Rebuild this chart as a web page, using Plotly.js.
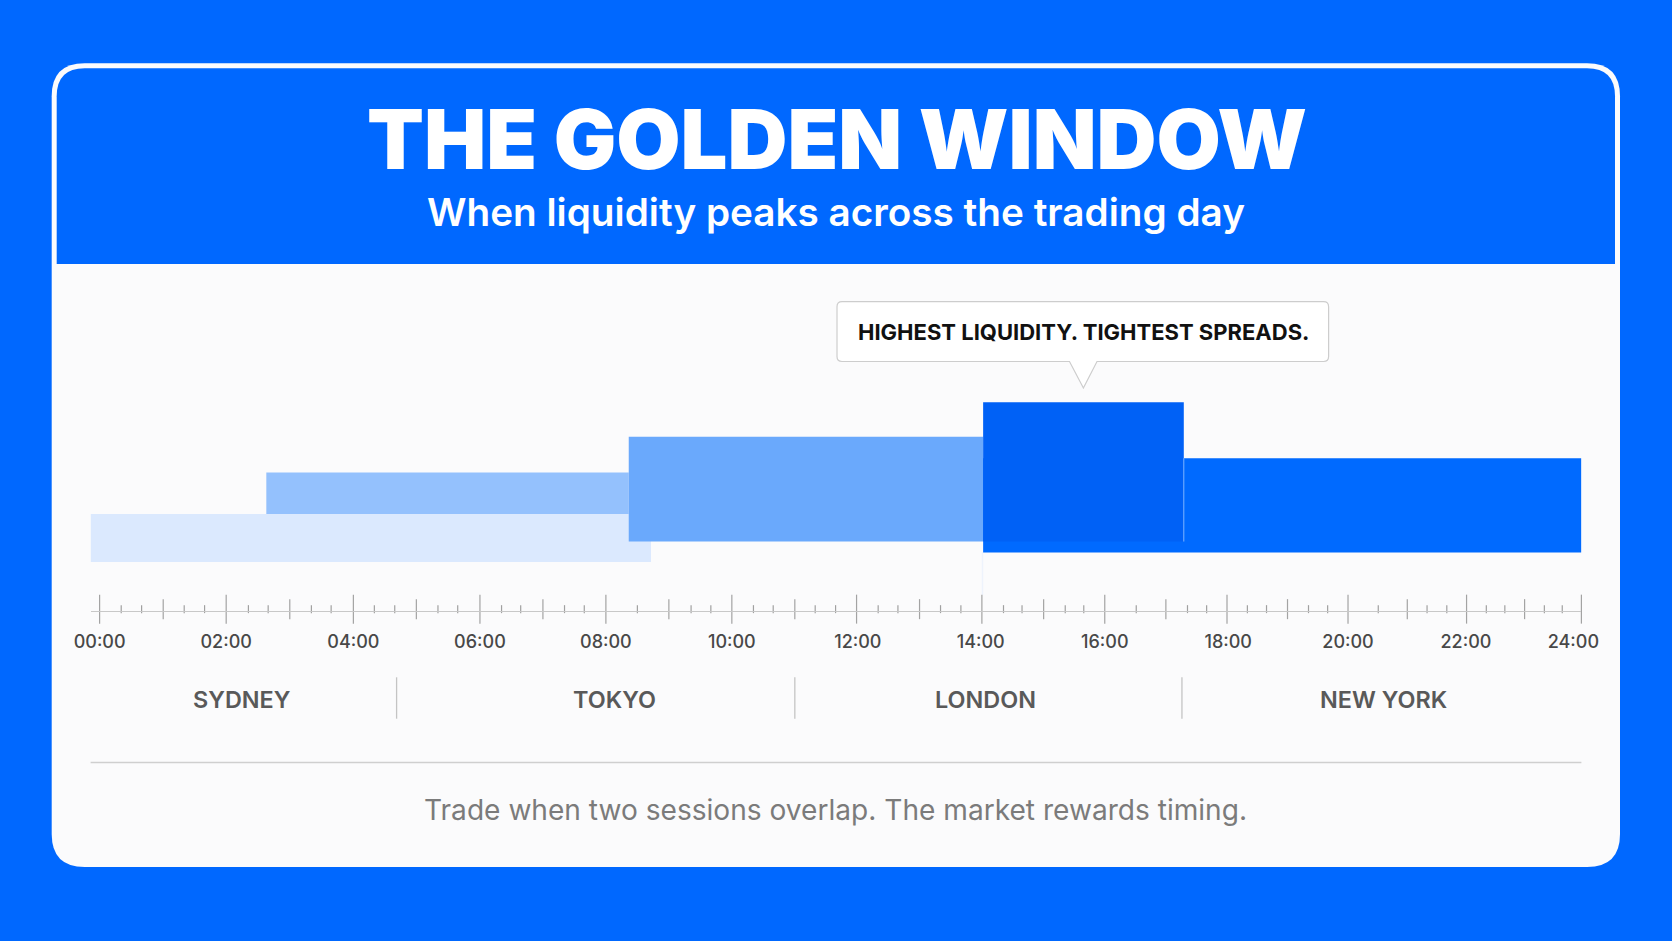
<!DOCTYPE html>
<html>
<head>
<meta charset="utf-8">
<script src="https://cdn.plot.ly/plotly-3.0.1.min.js"></script>
<style>html,body{margin:0;padding:0;background:#0068ff;overflow:hidden}</style>
</head>
<body>
<div id="chart" style="width:1672px;height:941px"></div>
<script>
// bars (hours on the x scale, level on a 0-100 scale)
var barNames = ['Tokyo', 'Sydney', 'London', 'New York', 'London / New York overlap'];
var barStart = [2.70, -0.146, 8.57, 14.31, 14.31];
var barEnd = [8.57, 8.93, 14.31, 24.0, 17.56];
var barLow = [30.5, 15.8, 22.4, 18.9, 22.4];
var barHigh = [44.7, 31.3, 56.2, 49.3, 67.3];
var barColors = ['#94c1fd', '#dbe9fe', '#6aa9fc', '#006aff', '#0061f6'];

// the time axis of the picture is not quite even, so the ticks are read one by one
var hourTicks = [0, 2.05, 4.11, 6.16, 8.20, 10.24, 12.26, 14.29, 16.28, 18.26, 20.22, 22.14, 24.0];
var hourLabelAt = [0, 2.05, 4.11, 6.16, 8.20, 10.24, 12.28, 14.27, 16.28, 18.28, 20.22, 22.13, 23.87];
var hourLabels = ['00:00', '02:00', '04:00', '06:00', '08:00', '10:00', '12:00', '14:00', '16:00', '18:00', '20:00', '22:00', '24:00'];
var midTicks = [1.03, 3.08, 5.13, 7.18, 9.22, 11.26, 13.28, 15.29, 17.27, 19.24, 21.18, 23.08];
var smallTicks = [0.35, 0.68, 1.37, 1.70, 2.41, 2.73, 3.43, 3.75, 4.45, 4.78, 5.48, 5.80, 6.51, 6.82, 7.53, 7.85,
  8.71, 9.58, 9.90, 10.59, 10.91, 11.59, 11.92, 12.61, 12.93, 13.62, 13.95, 14.64, 14.94, 15.64, 15.94, 16.79,
  17.62, 17.93, 18.59, 18.90, 19.58, 19.89, 20.71, 21.50, 21.82, 22.46, 22.76, 23.40, 23.69];

var sessionNames = ['SYDNEY', 'TOKYO', 'LONDON', 'NEW YORK'];
var sessionLabelAt = [2.31, 8.34, 14.35, 20.80];
var sessionDividers = [4.81, 11.26, 17.53];

var W = 1672, H = 941;
var fontName = 'Inter, "Noto Sans", sans-serif';
function px(x) { return x / W; }
function py(y) { return 1 - y / H; }

// rounded box as a path in paper coordinates; rt/rb = top and bottom corners
function roundBox(x0, y0, x1, y1, rt, rb, tail) {
  var d = 'M' + px(x0 + rt) + ',' + py(y0) + ' L' + px(x1 - rt) + ',' + py(y0);
  d += ' Q' + px(x1) + ',' + py(y0) + ' ' + px(x1) + ',' + py(y0 + rt);
  d += ' L' + px(x1) + ',' + py(y1 - rb);
  d += ' Q' + px(x1) + ',' + py(y1) + ' ' + px(x1 - rb) + ',' + py(y1);
  if (tail) {
    d += ' L' + px(tail[2]) + ',' + py(y1) + ' L' + px(tail[1]) + ',' + py(tail[3]) + ' L' + px(tail[0]) + ',' + py(y1);
  }
  d += ' L' + px(x0 + rb) + ',' + py(y1);
  d += ' Q' + px(x0) + ',' + py(y1) + ' ' + px(x0) + ',' + py(y1 - rb);
  d += ' L' + px(x0) + ',' + py(y0 + rt);
  d += ' Q' + px(x0) + ',' + py(y0) + ' ' + px(x0 + rt) + ',' + py(y0) + ' Z';
  return d;
}

var bars = {
  type: 'bar',
  name: 'sessions',
  text: barNames,
  textposition: 'none',
  x: barStart.map(function (s, i) { return (s + barEnd[i]) / 2; }),
  width: barStart.map(function (s, i) { return barEnd[i] - s; }),
  base: barLow,
  y: barLow.map(function (l, i) { return barHigh[i] - l; }),
  marker: { color: barColors, line: { width: 0 } }
};

function tickTrace(vals, len, col) {
  return {
    type: 'scatter',
    mode: 'markers',
    x: vals,
    y: vals.map(function () { return 0.6; }),
    cliponaxis: false,
    marker: { symbol: 'line-ns', size: len, color: col, line: { color: col, width: 1.2 } }
  };
}

var data = [bars, tickTrace(hourTicks, 20.7, '#a3a3a3'), tickTrace(midTicks, 14.3, '#a3a3a3'), tickTrace(smallTicks, 5.7, '#a0a0a0')];

var shapes = [
  { type: 'path', xref: 'paper', yref: 'paper', layer: 'below', path: roundBox(51.7, 63.3, 1620, 867, 33, 33), fillcolor: '#fbfbfc', line: { width: 0 } },
  { type: 'path', xref: 'paper', yref: 'paper', layer: 'below', path: roundBox(56.7, 68.3, 1615, 264, 28, 0), fillcolor: '#0068ff', line: { width: 0 } },
  { type: 'line', xref: 'paper', yref: 'paper', layer: 'below', x0: px(982.5), x1: px(982.5), y0: py(552), y1: py(595), line: { color: '#eef3fc', width: 1.5 } },
  { type: 'line', xref: 'paper', yref: 'paper', layer: 'below', x0: px(90.6), x1: px(1581.4), y0: py(762.4), y1: py(762.4), line: { color: '#cfcfcf', width: 1.5 } },
  // light seam where the overlap bar ends inside the New York bar
  { type: 'line', xref: 'x', yref: 'y', x0: barEnd[4], x1: barEnd[4], y0: barHigh[3], y1: barLow[4], line: { color: '#7db4ff', width: 1 } },
  { type: 'path', xref: 'paper', yref: 'paper', path: roundBox(837, 301.7, 1328.6, 361.5, 5, 5, [1069.5, 1083.4, 1097, 388]), fillcolor: '#ffffff', line: { color: '#cdcdcd', width: 1.2 } }
];
sessionDividers.forEach(function (d) {
  shapes.push({ type: 'line', xref: 'x', yref: 'paper', layer: 'below', x0: d, x1: d, y0: py(677.3), y1: py(718.7), line: { color: '#c4c4c4', width: 1.3 } });
});

function textNote(text, x, y, size, color, weight) {
  return { text: text, xref: 'paper', yref: 'paper', x: px(x), y: py(y), xanchor: 'center', yanchor: 'middle', showarrow: false,
    font: { family: fontName, size: size, color: color, weight: weight } };
}

var annotations = [
  textNote('THE GOLDEN WINDOW', 836.5, 139, 83, '#ffffff', 900),
  textNote('When liquidity peaks across the trading day', 836, 212, 38.7, '#ffffff', 600),
  textNote('HIGHEST LIQUIDITY. TIGHTEST SPREADS.', 1083, 331.6, 22, '#111111', 700),
  textNote('Trade when two sessions overlap. The market rewards timing.', 835.5, 810, 28.1, '#7b7b7b', 400)
];
sessionNames.forEach(function (s, i) {
  annotations.push({ text: s, xref: 'x', yref: 'paper', x: sessionLabelAt[i], y: py(699.5), xanchor: 'center', yanchor: 'middle', showarrow: false,
    font: { family: fontName, size: 23.4, color: '#595959', weight: 600 } });
});

var layout = {
  width: W,
  height: H,
  margin: { t: 0, b: 0, l: 0, r: 0, pad: 0 },
  paper_bgcolor: '#0068ff',
  plot_bgcolor: 'rgba(0,0,0,0)',
  showlegend: false,
  font: { family: fontName },
  xaxis: {
    domain: [px(90.6), px(1581.4)],
    range: [-0.146, 24.0],
    showgrid: false,
    zeroline: false,
    showline: true,
    linecolor: '#c8c8c8',
    linewidth: 1.2,
    ticks: '',
    tickmode: 'array',
    tickvals: hourLabelAt,
    ticktext: hourLabels,
    ticklabelstandoff: 14,
    tickangle: 0,
    tickfont: { family: fontName, size: 18, color: '#484848', weight: 500 }
  },
  yaxis: {
    domain: [py(611), py(301)],
    range: [0, 100],
    visible: false,
    fixedrange: true
  },
  shapes: shapes,
  annotations: annotations
};

Plotly.newPlot('chart', data, layout, { displayModeBar: false, staticPlot: true });
</script>
</body>
</html>
